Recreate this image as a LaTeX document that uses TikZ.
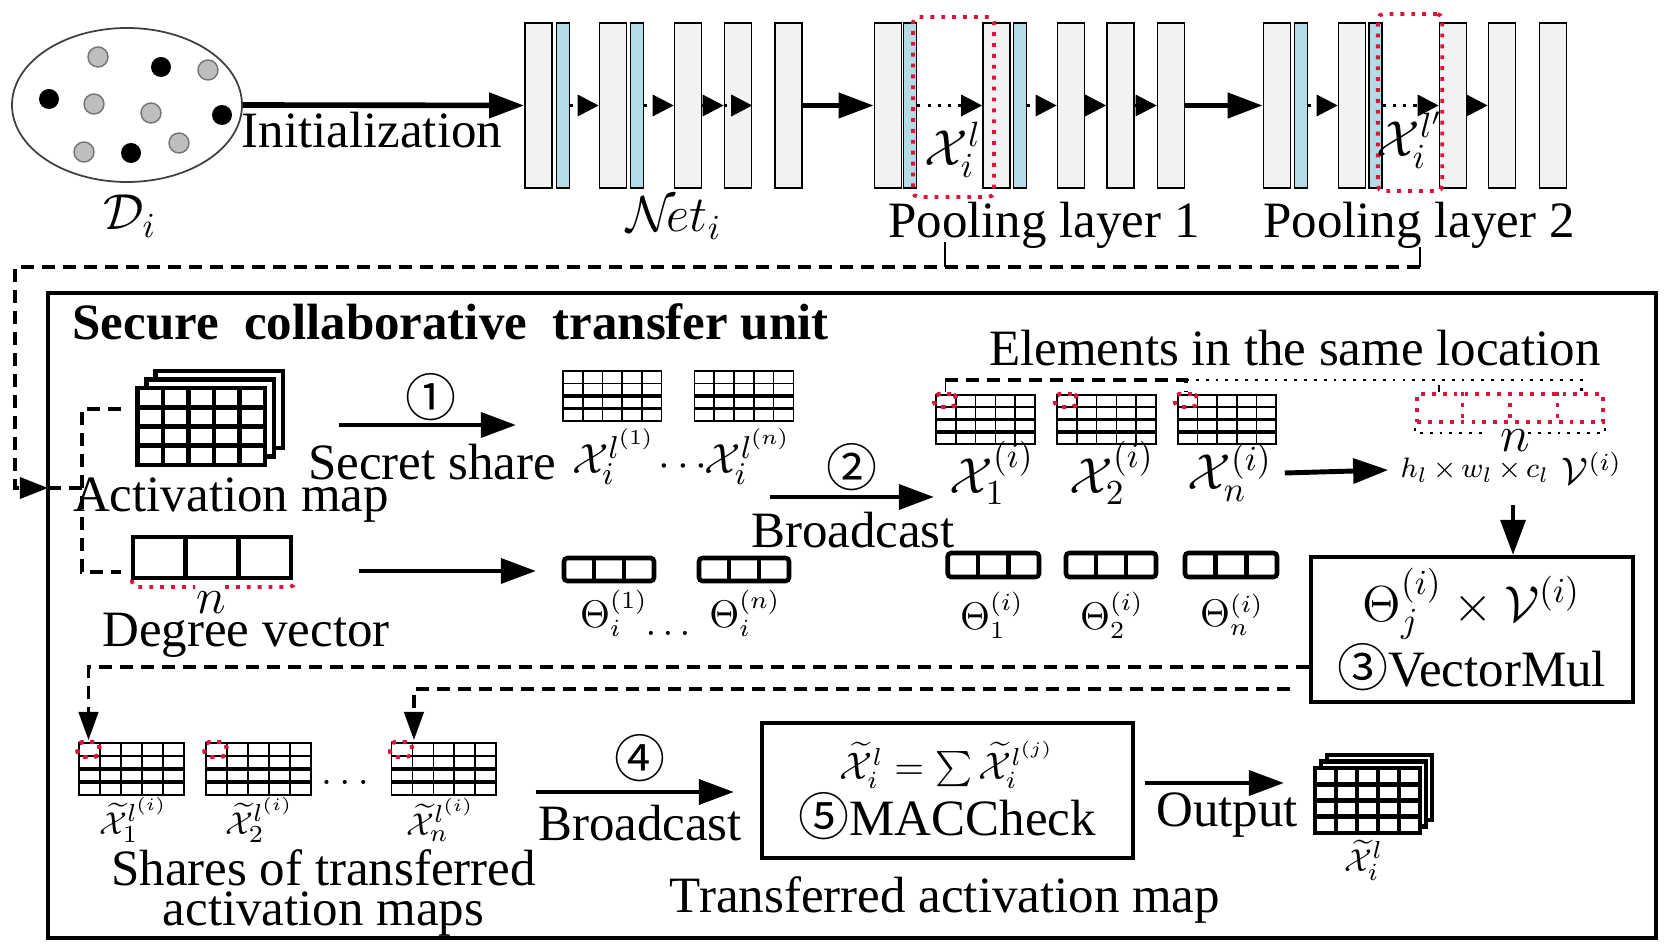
\documentclass[tikz,border=0pt]{standalone}
\usepackage{fontspec}
\setmainfont{Liberation Serif}
\newfontfamily\cercle{Noto Sans CJK SC}
\usepackage{tikz}
\usetikzlibrary{arrows.meta,positioning,shapes.geometric,calc}
\definecolor{rouge}{HTML}{DC143C}
\definecolor{bleuclair}{HTML}{B4DCE6}
\definecolor{grisclair}{HTML}{F2F2F2}
\definecolor{grispt}{HTML}{BEBEBE}

\begin{document}
\begin{tikzpicture}[
  font=\fontsize{14.5}{16}\selectfont,
  couche/.style={draw,fill=grisclair,minimum width=0.27cm,minimum height=1.65cm,inner sep=0pt,line width=0.45pt},
  bn/.style={couche,fill=bleuclair,minimum width=0.13cm},
  fl/.style={line width=1.6pt,-{Triangle[length=10pt,width=7pt]}},
  fin/.style={line width=1.4pt,-{Triangle[length=10pt,width=7pt]}},
  fpt/.style={line width=0.9pt,dotted,-{Triangle[length=6pt,width=6pt]}},
  sel/.style={draw=rouge,line width=1.1pt,dotted,rounded corners=1.5pt,inner sep=0pt},
  tiret/.style={line width=1pt,dash pattern=on 0.13cm off 0.08cm},
  boite/.style={draw,line width=1.1pt,align=center},
  rangee/.style={},
  lab/.style={font=\fontsize{12.5}{14}\selectfont},
  petit/.style={font=\fontsize{10.5}{12}\selectfont},
  mini/.style={font=\fontsize{9.5}{11}\selectfont,inner sep=0.5pt}]
  \useasboundingbox (0,0) rectangle (16.69,-9.45);
  \newcommand{\grille}[5][]{%
    \begin{scope}[shift={({#2},{#3})},#1]
      \filldraw[fill=white] (0,0) rectangle ({#4},{-#5});
      \foreach \c in {1,...,4} \draw ({\c*#4/5},0) -- ({\c*#4/5},{-#5});
      \draw (0,{-#5/4}) -- ({#4},{-#5/4});
      \foreach \r in {2,3} \draw[rangee] (0,{-\r*#5/4}) -- ({#4},{-\r*#5/4});
    \end{scope}}
  \newcommand{\vecteur}[4]{%
    \draw (#1,#2) rectangle ++(#3,-#4);
    \foreach \c in {1,2} \draw ({#1+\c*#3/3},#2) -- ++(0,-#4);}
  % donnees locales
  \node[ellipse,draw=black!75,line width=0.5pt,minimum width=2.30cm,minimum height=1.54cm] (data) at (1.27,-1.05) {};
  \foreach \x/\y in {0.98/0.57,2.08/0.70,0.94/1.04,1.51/1.13,0.84/1.52,1.79/1.43}
    \filldraw[fill=grispt,draw=black!55,line width=0.4pt] (\x,-\y) circle (0.1);
  \foreach \x/\y in {1.61/0.67,0.49/0.99,2.22/1.15,1.31/1.53}
    \fill (\x,-\y) circle (0.1);
  \node (di) at (1.30,-2.16) {$\mathcal{D}_i$};
  % reseau
  \foreach \n/\x in {c1/5.385,c2/6.13,c3/6.88,c4/7.38,c5/7.885,c6/8.88,c7/9.965,c8/10.71,c9/11.205,c10/11.71,c11/12.77,c12/13.52,c13/14.53,c14/15.02,c15/15.53}
    \node[couche] (\n) at (\x,-1.055) {};
  \foreach \n/\x in {b1/5.63,b2/6.37,b6/9.10,b7/10.20,b11/13.01,b12/13.755}
    \node[bn] (\n) at (\x,-1.055) {};
  \node[sel,minimum width=0.81cm,minimum height=1.80cm] (p1) at (9.535,-1.07) {};
  \node[sel,minimum width=0.644cm,minimum height=1.77cm] (p2) at (14.10,-1.025) {};
  \draw[fl] (data.east) -- (c1.west);
  \foreach \a/\b in {b1/c2,b2/c3,c3/c4,b6/c7,b7/c8,c8/c9,c9/c10,b11/c12,b12/c13,c13/c14}
    \draw[fpt] (\a.east) -- (\b.west);
  \draw[fpt] (c4.west) -- (c4.east);
  \draw[fl] (c5.east) -- (c6.west);
  \draw[fl] (c10.east) -- (c11.west);
  \node (init) at (3.72,-1.30) {Initialization};
  \node (net) at (6.74,-2.18) {$\mathcal{N}\!et_i$};
  \node (xl) at (9.53,-1.50) {$\mathcal{X}_i^l$};
  \node (xl2) at (14.10,-1.40) {$\mathcal{X}_i^{l'}$};
  \node (pool1) at (10.44,-2.25) {Pooling layer 1};
  \node (pool2) at (14.19,-2.25) {Pooling layer 2};
  % unite de transfert
  \node[boite,line width=1.3pt,minimum width=16.08cm,minimum height=6.45cm,inner sep=0pt] (unite) at (8.52,-6.155) {};
  \node[anchor=west] (titre) at (0.60,-3.22) {\bfseries Secure\ \ collaborative\ \ transfer unit};
  \coordinate (bas) at (0,-2.67);
  \coordinate (q1) at (9.45,-2.42);
  \coordinate (q2) at (14.20,-2.47);
  \coordinate (entree) at (0.48,-4.88);
  \draw (q1) -- (q1 |- bas);
  \draw (q2) -- (q2 |- bas);
  \draw[tiret,-{Triangle[length=8pt,width=6pt]}] (q2 |- bas) -| (0.15,-4.88) -- (entree);
  \draw[tiret] (entree) -- (0.82,-4.88);
  \draw[tiret] (1.21,-4.09) -| (0.82,-5.72) -- (1.21,-5.72);
  % carte d'activation et vecteur de degres
  \foreach \d in {2,1}
    \filldraw[fill=white,line width=1.3pt] ({1.375+0.09*\d},{-3.88+0.085*\d}) rectangle ++(1.275,-0.77);
  \grille[line width=1.3pt]{1.375}{-3.88}{1.275}{0.77}
  \node (am) at (2.31,-5.00) {Activation map};
  \begin{scope}[line width=1.4pt]
    \vecteur{1.33}{-5.37}{1.58}{0.41}
  \end{scope}
  \draw[sel] (1.32,-5.80) |- (1.95,-5.87);
  \draw[sel] (2.25,-5.87) -| (2.95,-5.80);
  \node (n1) at (2.11,-6.03) {$n$};
  \node (dv) at (2.46,-6.35) {Degree vector};
  % etape 1
  \coordinate (a1) at (3.39,-4.25);
  \coordinate (a2) at (5.16,-4.25);
  \draw[fin] (a1) -- (a2);
  \node (e1) at (4.31,-3.97) {\cercle ①};
  \node (ss) at (4.32,-4.62) {Secret share};
  \grille[line width=0.5pt,rangee/.style={line width=1.1pt}]{5.63}{-3.71}{0.985}{0.50}
  \grille[line width=0.5pt,rangee/.style={line width=1.1pt}]{6.944}{-3.71}{0.99}{0.50}
  \node[lab] (xs1) at (6.14,-4.57) {$\mathcal{X}_i^{l^{(1)}}$};
  \node[lab] (pts1) at (6.83,-4.67) {$\cdots$};
  \node[lab] (xsn) at (7.48,-4.57) {$\mathcal{X}_i^{l^{(n)}}$};
  \coordinate (a3) at (3.59,-5.71);
  \coordinate (a4) at (5.36,-5.71);
  \draw[fin] (a3) -- (a4);
  \begin{scope}[line width=1.3pt,rounded corners=1pt]
    \vecteur{5.64}{-5.58}{0.90}{0.23}
    \vecteur{6.99}{-5.58}{0.90}{0.23}
    \vecteur{9.477}{-5.53}{0.913}{0.24}
    \vecteur{10.66}{-5.53}{0.90}{0.24}
    \vecteur{11.85}{-5.53}{0.92}{0.24}
  \end{scope}
  \node[petit] (th1) at (6.14,-6.13) {$\Theta_i^{(1)}$};
  \node[petit] (pts2) at (6.68,-6.33) {$\ldots$};
  \node[petit] (thn) at (7.45,-6.13) {$\Theta_i^{(n)}$};
  % etape 2
  \coordinate (a5) at (7.70,-4.97);
  \coordinate (a6) at (9.34,-4.97);
  \draw[fin] (a5) -- (a6);
  \node (e2) at (8.52,-4.67) {\cercle ②};
  \node (bc1) at (8.53,-5.30) {Broadcast};
  \foreach \x/\w in {9.36/0.99,10.57/0.99,11.78/0.98}
    \grille[line width=0.5pt,rangee/.style={line width=1.1pt}]{\x}{-3.95}{\w}{0.49}
  \foreach \n/\x in {s1/9.4525,s2/10.66,s3/11.86}
    \node[sel,minimum width=0.225cm,minimum height=0.13cm] (\n) at (\x,-4.005) {};
  \node (x1) at (9.92,-4.73) {$\mathcal{X}_1^{(i)}$};
  \node (x2) at (11.12,-4.73) {$\mathcal{X}_2^{(i)}$};
  \node (xn) at (12.30,-4.73) {$\mathcal{X}_n^{(i)}$};
  \node[petit] (tt1) at (9.92,-6.15) {$\Theta_1^{(i)}$};
  \node[petit] (tt2) at (11.12,-6.15) {$\Theta_2^{(i)}$};
  \node[petit] (ttn) at (12.32,-6.15) {$\Theta_n^{(i)}$};
  % elements a la meme position
  \node (elem) at (12.95,-3.48) {Elements in the same location};
  \coordinate (haut) at (0,-3.80);
  \node[sel,rounded corners=0pt,minimum width=1.86cm,minimum height=0.28cm] (vv) at (15.10,-4.08) {};
  \foreach \k in {1,2,3}
    \draw[sel] ($(vv.north west)!\k/4!(vv.north east)$) -- ($(vv.south west)!\k/4!(vv.south east)$);
  \coordinate (v1) at ($(vv.north west)!1/8!(vv.north east)$);
  \coordinate (v4) at ($(vv.north west)!7/8!(vv.north east)$);
  \draw (s1.north) -- (s1.north |- haut);
  \draw[tiret] (s1.north |- haut) -- (s3.north |- haut) -- (s3.north);
  \draw[line width=0.8pt,dotted] (s3.north |- haut) -| (v4);
  \draw (v1) -- ++(0,0.07);
  \draw[line width=0.8pt,dotted] ([yshift=-0.04cm]vv.south west) |- (14.88,-4.33);
  \draw[line width=0.8pt,dotted] (15.28,-4.33) -| ([yshift=-0.04cm]vv.south east);
  \node (n2) at (15.15,-4.41) {$n$};
  \node[font=\fontsize{8.5}{10}\selectfont] (hwc) at (14.75,-4.70) {$h_l\mkern-1mu\times\mkern-1mu w_l\mkern-1mu\times\mkern-1mu c_l$};
  \node[petit] (vlab) at (15.92,-4.68) {$\mathcal{V}^{(i)}$};
  \draw[fin] (xn.east) -- (hwc.west);
  % etape 3
  \node[boite,minimum width=3.22cm,minimum height=1.35cm] (vm) at (14.716,-6.295) {$\Theta_j^{(i)}\times\mathcal{V}^{(i)}$\\{\cercle ③}VectorMul};
  \coordinate (vbas) at (15.13,-5.05);
  \draw[fin] (vbas) -- (vbas |- vm.north);
  % parts des cartes transferees
  \foreach \x/\w in {0.79/1.05,2.06/1.05,3.916/1.045}
    \grille[line width=0.5pt,rangee/.style={line width=1.1pt}]{\x}{-7.43}{\w}{0.52}
  \foreach \n/\x in {r1/0.885,r2/2.155,r3/4.01}
    \node[sel,minimum width=0.22cm,minimum height=0.15cm] (\n) at (\x,-7.495) {};
  \coordinate (ret1) at (0,-6.67);
  \coordinate (ret2) at (12.90,-6.89);
  \draw[tiret,-{Triangle[length=8pt,width=5.5pt]}] (vm.west |- ret1) -| (r1.north);
  \draw[tiret,-{Triangle[length=8pt,width=5.5pt]}] (ret2) -| (r3.north east);
  \node[lab] (pts3) at (3.45,-7.82) {$\ldots$};
  \node[mini] (xt1) at (1.34,-8.20) {$\widetilde{\mathcal{X}}_1^{l^{(i)}}$};
  \node[mini] (xt2) at (2.60,-8.20) {$\widetilde{\mathcal{X}}_2^{l^{(i)}}$};
  \node[mini] (xtn) at (4.41,-8.20) {$\widetilde{\mathcal{X}}_n^{l^{(i)}}$};
  \node[align=center,inner sep=0.5pt,font=\fontsize{14.5}{11.5}\selectfont] (parts) at (3.235,-8.93) {Shares of transferred\\activation maps};
  % etapes 4 et 5
  \coordinate (a7) at (5.356,-7.92);
  \coordinate (a8) at (7.34,-7.92);
  \draw[fin] (a7) -- (a8);
  \node (e4) at (6.40,-7.58) {\cercle ④};
  \node (bc2) at (6.40,-8.23) {Broadcast};
  \node[boite,minimum width=3.71cm,minimum height=1.35cm] (mac) at (9.472,-7.905) {{\fontsize{10.5}{12}\selectfont$\widetilde{\mathcal{X}}_i^l=\sum\widetilde{\mathcal{X}}_i^{l^{(j)}}$}\\{\cercle ⑤}MACCheck};
  \node (tam) at (9.45,-9.00) {Transferred activation map};
  \coordinate (a9) at (11.45,-7.83);
  \coordinate (a10) at (12.84,-7.83);
  \draw[fin] (a9) -- (a10);
  \node (out) at (12.27,-8.15) {Output};
  \foreach \d in {2,1}
    \filldraw[fill=white,line width=1.3pt] ({13.15+0.06*\d},{-7.68+0.065*\d}) rectangle ++(1.05,-0.65);
  \grille[line width=1.3pt]{13.15}{-7.68}{1.05}{0.65}
  \node[mini] (xo) at (13.64,-8.60) {$\widetilde{\mathcal{X}}_i^l$};
\end{tikzpicture}
\end{document}
